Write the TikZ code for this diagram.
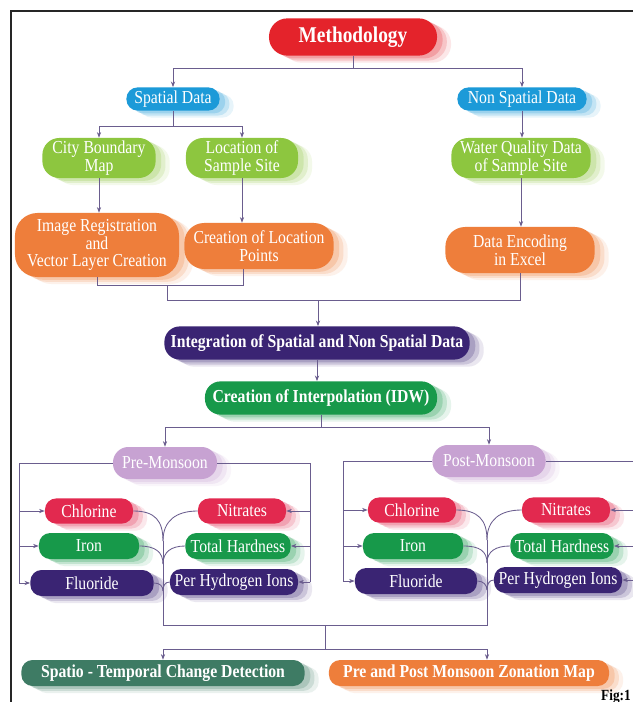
\documentclass[tikz,border=0pt]{standalone}
\usepackage{xcolor}
\usepackage{fontspec}
\setmainfont[FakeStretch=0.86]{Liberation Serif}
\usepackage{tikz}
\usetikzlibrary{arrows.meta,shadows}

\definecolor{methred}{HTML}{E4232B}
\definecolor{skyblue}{HTML}{1C9AD8}
\definecolor{limegreen}{HTML}{8DC63F}
\definecolor{deeporange}{HTML}{EE7E3B}
\definecolor{indigo}{HTML}{3A2473}
\definecolor{leafgreen}{HTML}{17994A}
\definecolor{lilac}{HTML}{C7A2D2}
\definecolor{crimson}{HTML}{E2294F}
\definecolor{tealgreen}{HTML}{3E7B64}
\definecolor{linkc}{HTML}{6A5D8E}

\begin{document}
\begin{tikzpicture}[x=0.025cm,y=-0.025cm,
  every node/.style={font=\fontsize{13}{12.5}\selectfont, text=white, align=center},
  box/.style={fill=#1, rounded corners=8pt, inner sep=0pt,
    general shadow={shadow xshift=10pt, shadow yshift=-5pt, fill=#1!30, opacity=0.35},
    general shadow={shadow xshift=7pt, shadow yshift=-3.5pt, fill=#1!45, opacity=0.45},
    general shadow={shadow xshift=4pt, shadow yshift=-2pt, fill=#1!60, opacity=0.5}},
  bold/.style={font=\bfseries\fontsize{13}{13}\selectfont},
  conn/.style={draw=linkc, line width=0.6pt},
  arr/.style={conn, -{Stealth[length=4pt,width=3pt]}}]
\useasboundingbox (0,0) rectangle (632,702);
\fill[white] (0,0) rectangle (632,702);
\draw[line width=0.9pt, black!85] (11,710) -- (11,11) -- (640,11);

% top part
\node[box=methred, minimum width=4.2cm, minimum height=0.93cm, rounded corners=13pt,
  font=\bfseries\fontsize{16}{16}\selectfont] (meth) at (353,37) {Methodology};
\node[box=skyblue, minimum width=2.33cm, minimum height=0.58cm] (sp) at (173,99) {Spatial Data};
\node[box=skyblue, minimum width=3.23cm, minimum height=0.58cm] (nsp) at (522,99) {Non Spatial Data};
\node[box=limegreen, minimum width=2.83cm, minimum height=1cm, rounded corners=12pt] (city) at (99,158) {City Boundary\\Map};
\node[box=limegreen, minimum width=2.8cm, minimum height=1cm, rounded corners=12pt] (loc) at (242,158) {Location of\\Sample Site};
\node[box=limegreen, minimum width=3.48cm, minimum height=1cm, rounded corners=12pt] (wq) at (521,158) {Water Quality Data\\of Sample Site};
\node[box=deeporange, minimum width=4.1cm, minimum height=1.6cm, rounded corners=16pt] (img) at (97,245) {Image Registration\\and\\Vector Layer Creation};
\node[box=deeporange, minimum width=3.73cm, minimum height=1.15cm, rounded corners=14pt] (clp) at (259,246) {Creation of Location\\Points};
\node[box=deeporange, minimum width=3.73cm, minimum height=1.15cm, rounded corners=14pt] (enc) at (520,250) {Data Encoding\\in Excel};

\draw[arr] (meth.south) -- ++(0,13) -| (sp.north);
\draw[arr] (meth.south) -- ++(0,13) -| (nsp.north);
\draw[arr] (sp.south) -- ++(0,16) -| (city.north);
\draw[arr] (sp.south) -- ++(0,16) -| (loc.north);
\draw[arr] (nsp.south) -- (nsp.south |- wq.north);
\draw[arr] (city.south) -- (city.south |- img.north);
\draw[arr] (loc.south) -- (loc.south |- clp.north);
\draw[arr] (wq.south) -- (wq.south |- enc.north);

% joining
\coordinate (ja) at (243,285);
\coordinate (jb) at (167,285);
\coordinate (jc) at (318,300);
\node[box=indigo, bold, minimum width=7.63cm, minimum height=0.83cm, rounded corners=11pt] (integ) at (317,343) {Integration of Spatial and Non Spatial Data};
\node[box=leafgreen, bold, minimum width=5.8cm, minimum height=0.83cm, rounded corners=11pt] (idw) at (321,398) {Creation of Interpolation (IDW)};
\draw[conn] (img.south) |- (ja) -- (ja |- clp.south);
\draw[conn] (jb) -- (jb |- jc) -| (enc.south);
\draw[arr] (jc) -- (jc |- integ.north);
\draw[arr] (integ.south) -- (integ.south |- idw.north);

% seasons
\node[box=lilac, minimum width=2.6cm, minimum height=0.8cm, rounded corners=11pt] (pre) at (165,463) {Pre-Monsoon};
\node[box=lilac, minimum width=2.83cm, minimum height=0.8cm, rounded corners=11pt] (post) at (489,461) {Post-Monsoon};
\draw[arr] (idw.south) -- ++(0,13) -| (pre.north);
\draw[arr] (idw.south) -- ++(0,13) -| (post.north);

% parameters
\node[box=crimson, minimum width=2.2cm, minimum height=0.63cm] (chl1) at (89,511) {Chlorine};
\node[box=leafgreen, minimum width=2.5cm, minimum height=0.65cm] (iron1) at (89,546) {Iron};
\node[box=indigo, minimum width=3.08cm, minimum height=0.65cm] (flu1) at (92,583) {Fluoride};
\node[box=crimson, minimum width=2.2cm, minimum height=0.63cm] (nit1) at (242,511) {Nitrates};
\node[box=leafgreen, minimum width=2.63cm, minimum height=0.65cm] (th1) at (238,546) {Total Hardness};
\node[box=indigo, minimum width=3.2cm, minimum height=0.65cm] (ph1) at (234,582) {Per Hydrogen Ions};

\node[box=crimson, minimum width=2.2cm, minimum height=0.63cm] (chl2) at (412,510) {Chlorine};
\node[box=leafgreen, minimum width=2.5cm, minimum height=0.65cm] (iron2) at (413,546) {Iron};
\node[box=indigo, minimum width=3.05cm, minimum height=0.65cm] (flu2) at (416,581) {Fluoride};
\node[box=crimson, minimum width=2.2cm, minimum height=0.63cm] (nit2) at (566,510) {Nitrates};
\node[box=leafgreen, minimum width=2.58cm, minimum height=0.65cm] (th2) at (562,546) {Total Hardness};
\node[box=indigo, minimum width=3.2cm, minimum height=0.65cm] (ph2) at (558,580) {Per Hydrogen Ions};

\coordinate (pl1) at (19,463);
\coordinate (pr1) at (310,463);
\coordinate (pl2) at (343,461);
\coordinate (pr2) at (640,461);
\draw[conn] (pre.west) -| (pl1 |- flu1.west);
\draw[conn] (pre.east) -| (pr1 |- ph1.east);
\draw[conn] (post.west) -| (pl2 |- flu2.west);
\draw[conn] (post.east) -| (pr2 |- ph2.east);
\foreach \b in {chl1,iron1,flu1} \draw[arr] (pl1 |- \b.west) -- (\b.west);
\foreach \b in {nit1,th1,ph1} \draw[arr] (pr1 |- \b.east) -- (\b.east);
\foreach \b in {chl2,iron2,flu2} \draw[arr] (pl2 |- \b.west) -- (\b.west);
\foreach \b in {nit2,th2,ph2} \draw[arr] (pr2 |- \b.east) -- (\b.east);

% trunks
\coordinate (pa1) at (163,541);
\coordinate (pb1) at (163,564);
\coordinate (pc1) at (163,591);
\coordinate (pd1) at (163,625);
\coordinate (pa2) at (487,540);
\coordinate (pb2) at (487,563);
\coordinate (pc2) at (487,590);
\coordinate (pd2) at (487,625);
\draw[conn] (chl1.east) .. controls +(22,0) and +(0,-20) .. (pa1);
\draw[conn] (nit1.west) .. controls +(-22,0) and +(0,-20) .. (pa1);
\draw[conn] (iron1.east) .. controls +(16,0) and +(0,-12) .. (pb1);
\draw[conn] (th1.west) .. controls +(-14,0) and +(0,-12) .. (pb1);
\draw[conn] (flu1.east) .. controls +(6,0) and +(0,-5) .. (pc1);
\draw[conn] (ph1.west) .. controls +(-5,0) and +(0,-5) .. (pc1);
\draw[conn] (chl2.east) .. controls +(22,0) and +(0,-20) .. (pa2);
\draw[conn] (nit2.west) .. controls +(-22,0) and +(0,-20) .. (pa2);
\draw[conn] (iron2.east) .. controls +(16,0) and +(0,-12) .. (pb2);
\draw[conn] (th2.west) .. controls +(-14,0) and +(0,-12) .. (pb2);
\draw[conn] (flu2.east) .. controls +(6,0) and +(0,-5) .. (pc2);
\draw[conn] (ph2.west) .. controls +(-5,0) and +(0,-5) .. (pc2);
\draw[conn] (pa1) -- (pd1) -- (pd2) -- (pa2);

% results
\coordinate (pm) at (325,625);
\node[box=tealgreen, bold, minimum width=7.08cm, minimum height=0.65cm] (std) at (163,673) {Spatio - Temporal Change Detection};
\node[box=deeporange, bold, minimum width=7cm, minimum height=0.65cm] (zon) at (469,673) {Pre and Post Monsoon Zonation Map};
\draw[arr] (pm) -- ++(0,24) -| (pd1 |- std.north);
\draw[arr] (pm) -- ++(0,24) -| (pd2 |- zon.north);

\node[text=black, font=\bfseries\fontsize{11}{11}\selectfont, anchor=north east, inner sep=0pt] (fig) at (631,689) {Fig:1};
\end{tikzpicture}
\end{document}
